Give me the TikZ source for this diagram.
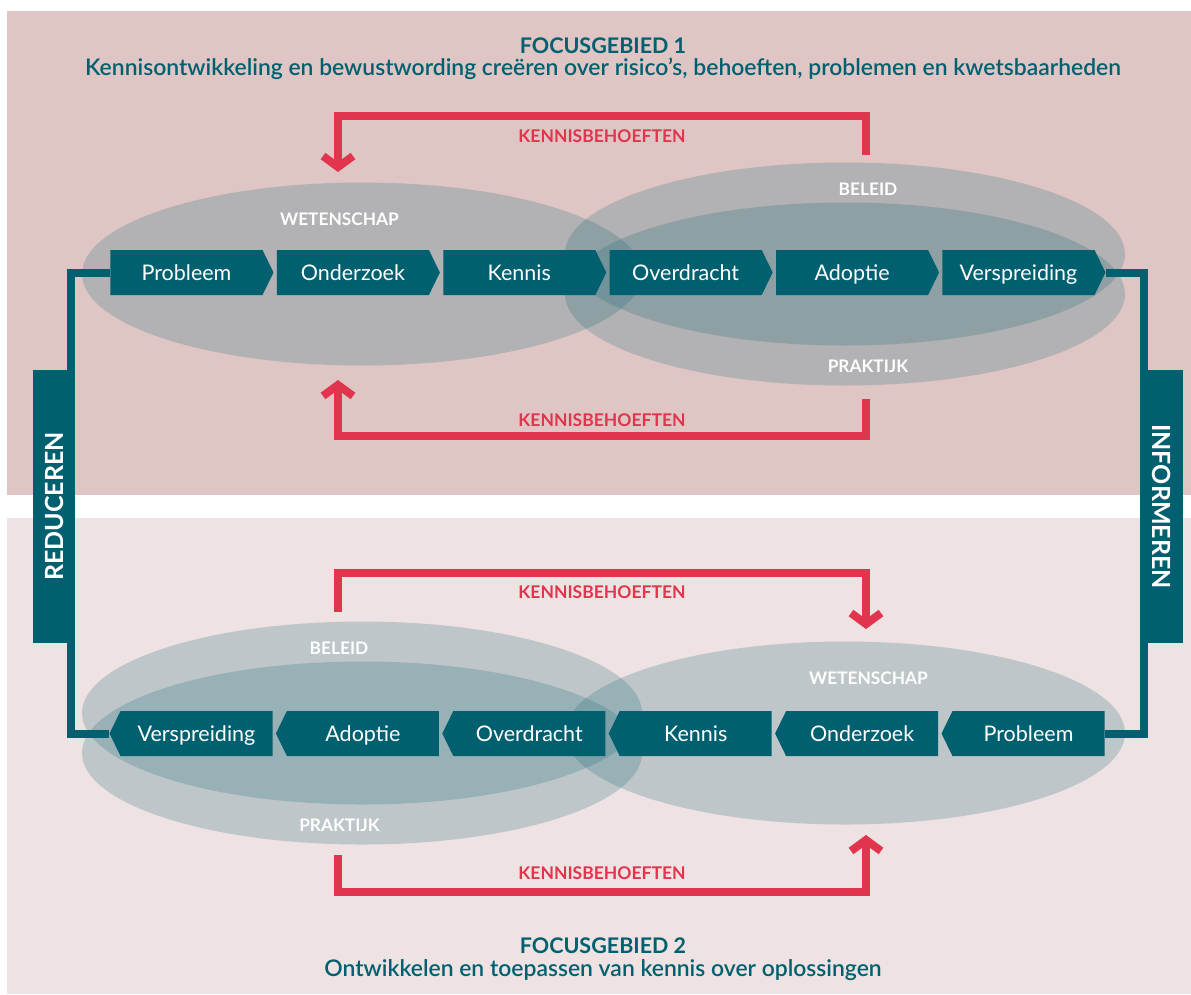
\documentclass[tikz,border=0pt]{standalone}
\usepackage{fontspec}
\setmainfont{Lato}
\newfontfamily\semifont{Lato Semibold}
\usetikzlibrary{shapes.geometric,shapes.symbols,arrows.meta,positioning}

\definecolor{petrol}{HTML}{00606F}
\definecolor{alarm}{HTML}{E1344D}
\definecolor{roseA}{HTML}{DFC6C5}
\definecolor{roseB}{HTML}{EEE2E2}
\definecolor{haze}{HTML}{146774}

\tikzset{
		chev/.style={signal, signal pointer angle=128, fill=petrol, text=white, minimum width=163, minimum height=45, inner sep=0pt, text height=15pt, text depth=0pt, font=\fontsize{21.5}{21.5}\selectfont},
		blob/.style={ellipse, fill=haze, fill opacity=0.22, minimum width=560, minimum height=183, inner sep=0pt},
		zone/.style={anchor=base, text=white, inner sep=0pt, font=\bfseries\fontsize{17.3}{17.3}\selectfont},
		bar/.style={fill=petrol, text=white, minimum width=42, minimum height=273, inner sep=0pt, font=\bfseries\fontsize{25}{25}\selectfont},
		link/.style={petrol, line width=8},
		need/.style={alarm, line width=8, -{Straight Barb[length=11pt,width=30pt]}},
		needlabel/.style={text=alarm, inner sep=0pt, font=\bfseries\fontsize{17.5}{17.5}\selectfont},
		head/.style={anchor=base, text=petrol, inner sep=0pt, font=\bfseries\fontsize{21.5}{21.5}\selectfont},
		subhead/.style={anchor=base, text=petrol, inner sep=0pt, font=\semifont\fontsize{22.9}{22.9}\selectfont}
	}

\begin{document}
\begin{tikzpicture}[x=1pt,y=-1pt]

\useasboundingbox (0,0) rectangle (1191,994);
\fill[white] (0,0) rectangle (1191,994);
\fill[roseA] (7,11) rectangle (1191,495);
\fill[roseB] (7,518) rectangle (1191,994);

% focusgebied 1
\node (wet1) at (362,274) [blob] {};
\node (bel1) at (845,254) [blob] {};
\node (pra1) at (845,294) [blob] {};

\node (wet1t) at (339.5,225) [zone] {WETENSCHAP};
\node (bel1t) at (868,195) [zone] {BELEID};
\node (pra1t) at (868,372) [zone] {PRAKTIJK};

\node (tprob) at (186.5,272.5) [chev, signal to=east] {Probleem};
\node (tond) at (352.9,272.5) [chev, signal to=east] {Onderzoek};
\node (tken) at (519.3,272.5) [chev, signal to=east] {Kennis};
\node (tove) at (685.7,272.5) [chev, signal to=east] {Overdracht};
\node (tado) at (852.1,272.5) [chev, signal to=east] {Adoptie};
\node (tver) at (1018.5,272.5) [chev, signal to=east] {Verspreiding};

% focusgebied 2
\node (bel2) at (362,713) [blob] {};
\node (pra2) at (362,753) [blob] {};
\node (wet2) at (845,733) [blob] {};

\node (bel2t) at (339,654) [zone] {BELEID};
\node (pra2t) at (339.5,831) [zone] {PRAKTIJK};
\node (wet2t) at (868.5,684) [zone] {WETENSCHAP};

\node (bver) at (196.5,733.5) [chev, signal to=west] {Verspreiding};
\node (bado) at (362.9,733.5) [chev, signal to=west] {Adoptie};
\node (bove) at (529.3,733.5) [chev, signal to=west] {Overdracht};
\node (bken) at (695.7,733.5) [chev, signal to=west] {Kennis};
\node (bond) at (862.1,733.5) [chev, signal to=west] {Onderzoek};
\node (bprob) at (1028.5,733.5) [chev, signal to=west] {Probleem};

% zijbalken
\node (reduc) at (54,506.5) [bar] {\rotatebox{90}{REDUCEREN}};
\node (infor) at (1161.5,506.5) [bar] {\rotatebox{-90}{INFORMEREN}};

\draw [link] (tprob.west) -| ([xshift=-4]reduc.north east) |- (bver.west);
\draw [link] (tver.east) -| ([xshift=4]infor.north west) |- (bprob.east);

% kennisbehoeften
\coordinate (need1a) at (866,155);
\coordinate (need1b) at (338,172);
\coordinate (need2a) at (866,399);
\coordinate (need2b) at (338,380);
\coordinate (need3a) at (338,612);
\coordinate (need3b) at (866,629);
\coordinate (need4a) at (338,855);
\coordinate (need4b) at (866,835);

\draw [need] (need1a) -- ++(0,-39) -| node[pos=0.25, below=10pt, needlabel] (need1t) {KENNISBEHOEFTEN} (need1b);
\draw [need] (need2a) -- ++(0,37) -| node[pos=0.25, above=5pt, needlabel] (need2t) {KENNISBEHOEFTEN} (need2b);
\draw [need] (need3a) -- ++(0,-39) -| node[pos=0.25, below=9pt, needlabel] (need3t) {KENNISBEHOEFTEN} (need3b);
\draw [need] (need4a) -- ++(0,37) -| node[pos=0.25, above=8pt, needlabel] (need4t) {KENNISBEHOEFTEN} (need4b);

% titels
\node (fg1) at (603,53) [head] {FOCUSGEBIED 1};
\node (fg1s) at (603,75) [subhead] {Kennisontwikkeling en bewustwording creëren over risico’s, behoeften, problemen en kwetsbaarheden};
\node (fg2) at (603,953.5) [head] {FOCUSGEBIED 2};
\node (fg2s) at (603,976.5) [subhead] {Ontwikkelen en toepassen van kennis over oplossingen};

\end{tikzpicture}
\end{document}
